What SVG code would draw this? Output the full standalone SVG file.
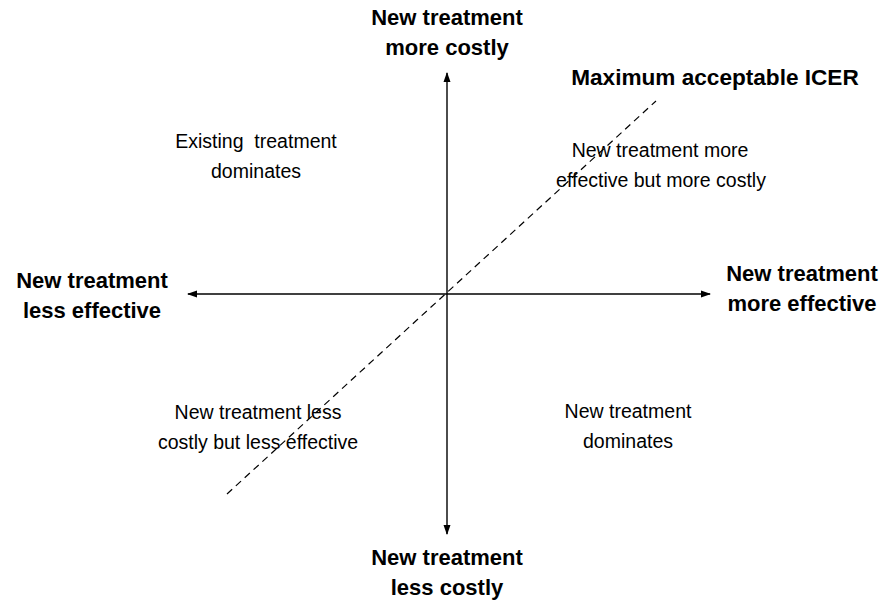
<svg xmlns="http://www.w3.org/2000/svg" width="884" height="603" viewBox="0 0 884 603">
<style>
.bold{font-family:"Liberation Sans",Arial,sans-serif;font-size:22px;font-weight:bold;fill:#000;text-anchor:middle}
.reg{font-family:"Liberation Sans",Arial,sans-serif;font-size:19.5px;fill:#000;text-anchor:middle}
.axis{stroke:#000;stroke-width:1.4;fill:none}
.dash{stroke:#000;stroke-width:1.2;fill:none;stroke-dasharray:7 5}
</style>
<defs>
<marker id="arr" markerUnits="userSpaceOnUse" markerWidth="10" markerHeight="8" refX="9" refY="4" orient="auto-start-reverse">
<path d="M0,0.5 L10,4 L0,7.5 z" fill="#000"/>
</marker>
</defs>
<rect width="884" height="603" fill="#fff"/>
<g id="connectors">
<line class="axis" x1="447" y1="73" x2="447" y2="534" marker-start="url(#arr)" marker-end="url(#arr)"/>
<line class="axis" x1="188" y1="294" x2="710" y2="294" marker-start="url(#arr)" marker-end="url(#arr)"/>
<line id="icer-line" class="dash" x1="227" y1="494" x2="656" y2="101"/>
</g>
<g id="top-label"><text class="bold" x="447" y="25">New treatment</text><text class="bold" x="447" y="55">more costly</text></g>
<g id="bottom-label"><text class="bold" x="447" y="565">New treatment</text><text class="bold" x="447" y="595">less costly</text></g>
<g id="left-label"><text class="bold" x="92" y="288">New treatment</text><text class="bold" x="92" y="318">less effective</text></g>
<g id="right-label"><text class="bold" x="802" y="281">New treatment</text><text class="bold" x="802" y="311">more effective</text></g>
<g id="icer-label"><text class="bold" x="715" y="85" style="font-size:22.6px">Maximum acceptable ICER</text></g>
<g id="q-top-left"><text class="reg" x="256" y="148" xml:space="preserve">Existing  treatment</text><text class="reg" x="256" y="178">dominates</text></g>
<g id="q-top-right"><text class="reg" x="660" y="157">New treatment more</text><text class="reg" x="661" y="187">effective but more costly</text></g>
<g id="q-bottom-left"><text class="reg" x="258" y="419">New treatment less</text><text class="reg" x="258" y="449">costly but less effective</text></g>
<g id="q-bottom-right"><text class="reg" x="628" y="418">New treatment</text><text class="reg" x="628" y="448">dominates</text></g>
</svg>
